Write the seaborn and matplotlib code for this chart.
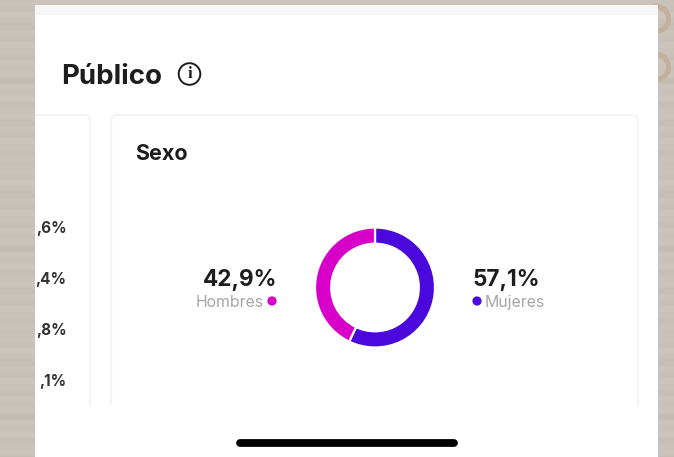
import matplotlib
matplotlib.use("Agg")
import matplotlib.pyplot as plt
from matplotlib.patches import Circle, FancyBboxPatch, Rectangle
import seaborn as sns

# Audience split shown in the donut
sexes = ["Mujeres", "Hombres"]
shares = [57.1, 42.9]
share_labels = ["57,1%", "42,9%"]
# Percentages of the neighbouring card, cut off by the screen edge
cut_labels = [",6%", ",4%", ",8%", ",1%"]
title = "Público"
card_title = "Sexo"
# Tones of the stone backdrop, as thin horizontal bands repeated down the page
stone_bands = ["#c9c3bb", "#c6c0b8", "#cbc5bd", "#c7c1b9", "#c4beb6", "#c9c3bb", "#c6c0b8",
               "#cac4bc", "#c8c2ba", "#c5bfb7", "#cac4bc", "#c7c1b9", "#c9c3bb", "#c3bdb5",
               "#c9c3bb", "#c7c1b9", "#cbc5bd", "#c5bfb7", "#c8c2ba", "#cac4bc", "#c4beb6",
               "#c9c3bb", "#c6c0b8", "#cac4bc", "#c8c2ba", "#c5bfb7", "#c9c3bb", "#c7c1b9"]

sns.set_theme(style="white")
plt.rcParams["font.family"] = ["Inter", "DejaVu Sans"]
palette = sns.color_palette(["#4b08dc", "#d800c8"])
INK = "#1d1d1f"
MUTED = "#a6a6a6"
STONE = "#c8c2ba"
W, H = 674, 457

fig = plt.figure(figsize=(W / 100, H / 100), dpi=100, facecolor=STONE)
page = fig.add_axes([0, 0, 1, 1])
page.set_xlim(0, W)
page.set_ylim(H, 0)
page.axis("off")

# Stone backdrop
band_h = 6
for i in range(H // band_h + 1):
    tone = stone_bands[i % len(stone_bands)]
    page.add_patch(Rectangle((0, i * band_h), W, band_h + 0.5, fc=tone, ec="none", zorder=0))

# Rings of the backdrop peeking out from behind the sheet
for cy in (19, 67):
    page.add_patch(Circle((656, cy), 12.5, fc="none", ec="#c4b09a", lw=3.6, zorder=1))

# White sheet with its pale top strip
sheet = Rectangle((35, 5), 623, 452, fc="white", ec="none", zorder=2)
page.add_patch(sheet)
page.add_patch(Rectangle((35, 5), 623, 10, fc="#f7f7f7", ec="none", zorder=2.1))

# Cards: open at the bottom, faded out by a white footer
border = "#f4f4f4"
left_card = FancyBboxPatch((10, 115), 80, 320, boxstyle="round,pad=0,rounding_size=6",
                           fc="white", ec=border, lw=1.6, zorder=3)
page.add_patch(left_card)
left_card.set_clip_path(sheet)
page.add_patch(FancyBboxPatch((111, 115), 527, 320, boxstyle="round,pad=0,rounding_size=6",
                              fc="white", ec=border, lw=1.6, zorder=3))
page.add_patch(Rectangle((35, 405), 623, 52, fc="white", ec="none", zorder=3.5))

# Header
page.text(61, 84, title, fontsize=19.9, fontweight="bold", color=INK, zorder=5)
page.add_patch(Circle((189.5, 74), 10.8, fc="none", ec=INK, lw=1.4, zorder=5))
page.text(189.5, 74, "i", fontsize=12, family=["Liberation Serif"], fontweight="bold",
          color=INK, ha="center", va="center", zorder=5)
page.text(135.5, 160, card_title, fontsize=15.5, fontweight="bold", color=INK, zorder=5)

# Clipped values of the left card
for y, label in zip((233, 284, 335, 386), cut_labels):
    page.text(66.5, y, label, fontsize=11, fontweight="bold", color="#333336",
              ha="right", zorder=5)

# Value and legend entry on each side of the donut
page.text(277, 286, share_labels[1], fontsize=16.2, fontweight="bold", color=INK,
          ha="right", zorder=5)
page.text(264, 307, sexes[1], fontsize=11.4, color=MUTED, ha="right", zorder=5)
page.text(473, 286, share_labels[0], fontsize=16.2, fontweight="bold", color=INK,
          zorder=5)
page.text(485, 307, sexes[0], fontsize=11.4, color=MUTED, zorder=5)
page.scatter([272, 477], [301, 301], s=44, c=[palette[1], palette[0]], linewidths=0, zorder=5)

# Home indicator
page.plot([240, 454], [443, 443], color="black", lw=5.6, solid_capstyle="round", zorder=5)

# Donut, clockwise from twelve o'clock
cx, cy, r = 375, 287.5, 60
donut = fig.add_axes([(cx - r) / W, 1 - (cy + r) / H, 2 * r / W, 2 * r / H], zorder=6)
donut.patch.set_alpha(0)
donut.pie(shares, colors=palette, startangle=90, counterclock=False, radius=1,
          wedgeprops=dict(width=0.27, edgecolor="white", linewidth=1.6))
donut.set_xlim(-1, 1)
donut.set_ylim(-1, 1)

fig.savefig("out.png", dpi=100, facecolor=STONE)
